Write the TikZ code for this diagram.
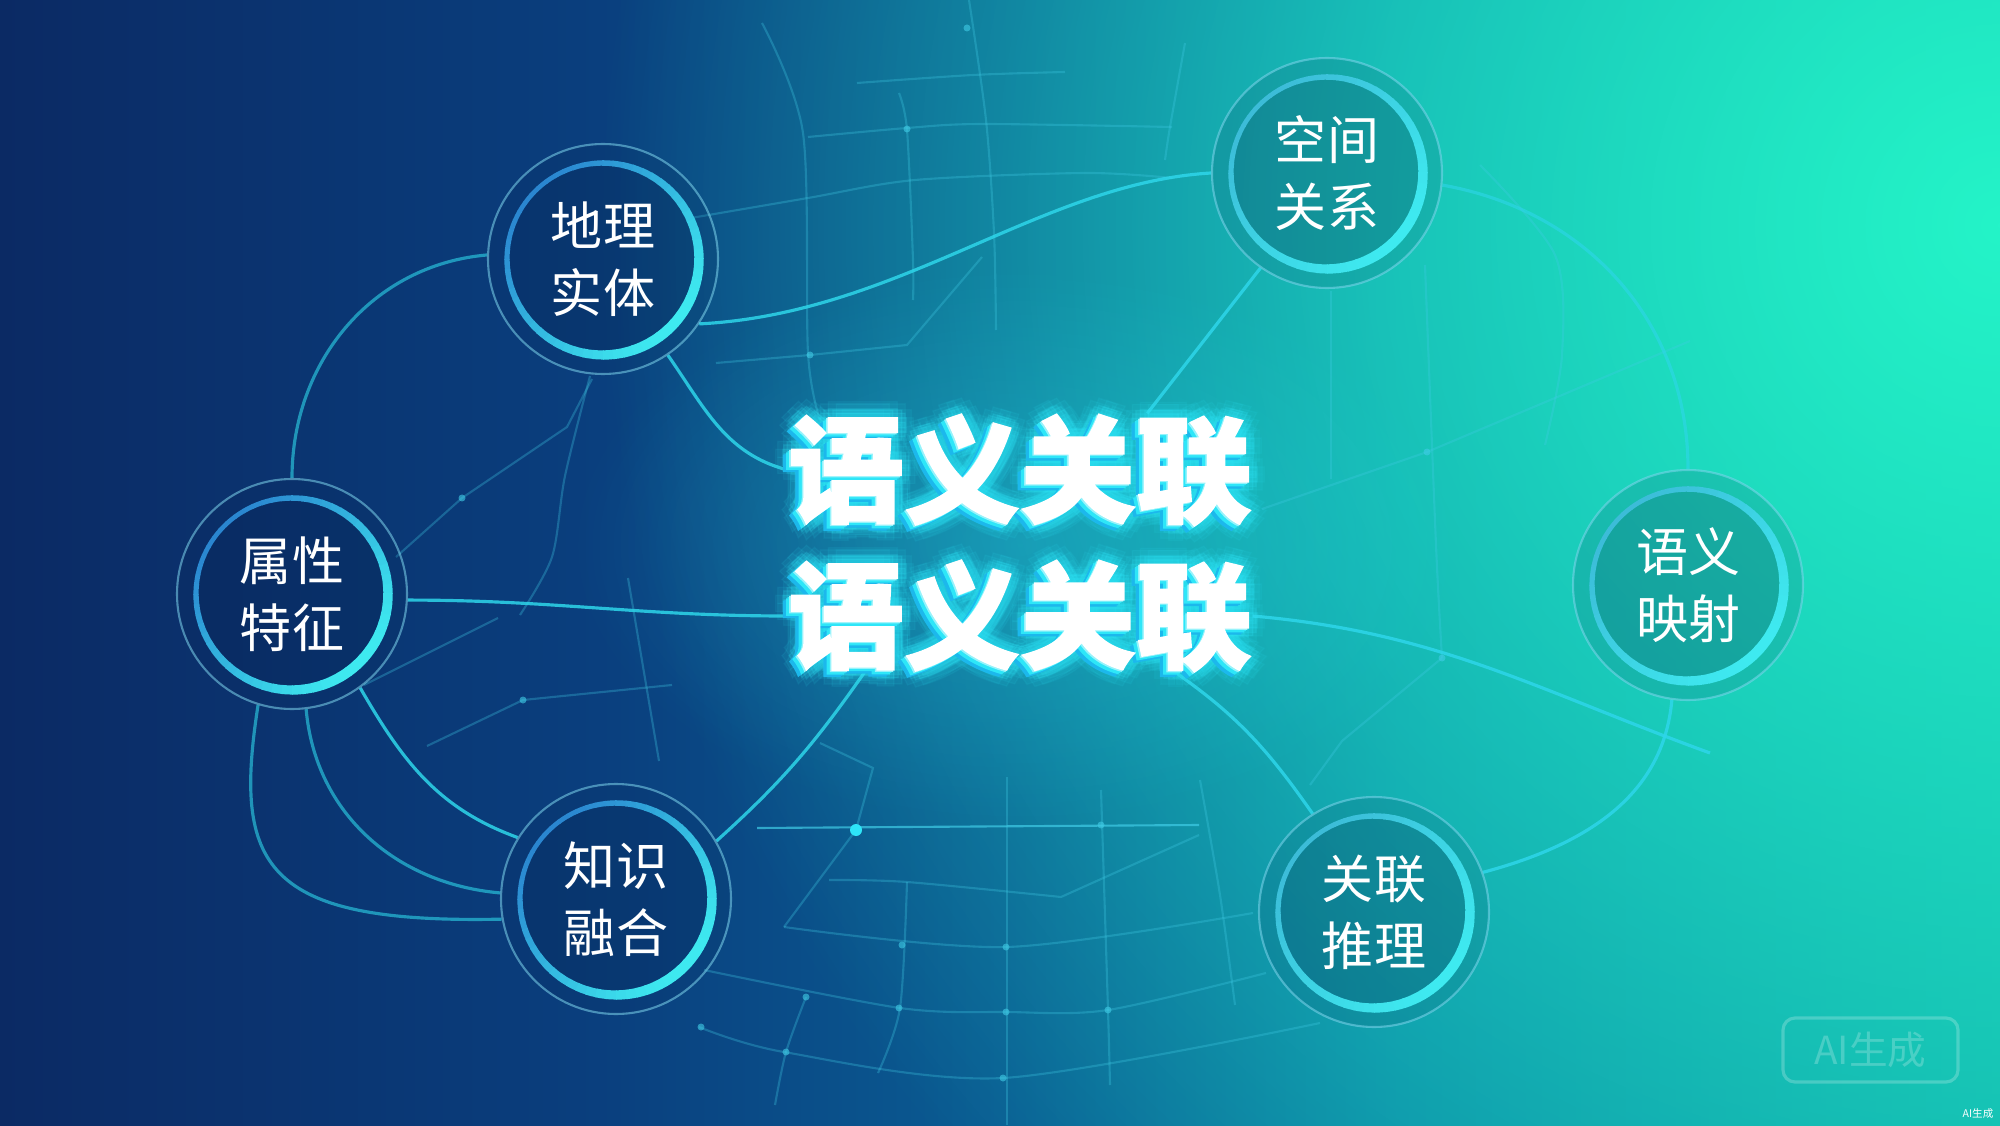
\documentclass[tikz,border=0pt]{standalone}
\usepackage{fontspec}
\newfontfamily\cjk{Noto Sans CJK SC}
\newfontfamily\cjkheavy{Noto Sans CJK SC}[BoldFeatures={FakeBold=1.2}]
\usetikzlibrary {positioning, calc, fadings, shapes}

\definecolor{bgnavy}{HTML}{0B2A64}
\definecolor{bgblue}{HTML}{0A3F7E}
\definecolor{bgmid}{HTML}{0A5C93}
\definecolor{bgteal}{HTML}{0A84A6}
\definecolor{bgedge}{HTML}{0FA8AA}
\definecolor{bgmint}{HTML}{24F4C8}
\definecolor{nodefill}{HTML}{06204A}
\definecolor{ringblue}{HTML}{2A86D0}
\definecolor{ringteal}{HTML}{3CBCD8}
\definecolor{ringcyan}{HTML}{3EEAF0}
\definecolor{thinring}{HTML}{7FD6EE}
\definecolor{linkcyan}{HTML}{2ED6EA}
\definecolor{gridcyan}{HTML}{40CCE6}
\definecolor{glowcyan}{HTML}{2EE6F8}
\definecolor{edgecyan}{HTML}{1CB8EC}

\pgfdeclarehorizontalshading{bgsweep}{100bp}{color(0bp)=(bgnavy); color(25bp)=(bgnavy); color(40bp)=(bgblue); color(50bp)=(bgmid); color(60bp)=(bgteal); color(75bp)=(bgedge); color(100bp)=(bgedge)}
\tikzfading[name=softglow, inner color=transparent!0, outer color=transparent!100]
\pgfdeclarelayer{bg}
\pgfsetlayers{bg,main}

\tikzset{
  topic/.style={circle, minimum size=2.3cm, inner sep=0pt, draw=thinring, draw opacity=0.55, line width=0.6pt, text=white, align=center, font=\cjk\fontsize{14.8}{19}\selectfont},
  headline/.style={inner sep=0pt, font=\cjkheavy\bfseries\fontsize{33}{40}\selectfont},
  link/.style={draw=linkcyan, line width=0.9pt, opacity=0.85},
  gridline/.style={draw=gridcyan, line width=0.6pt, opacity=0.3}
}

\begin{document}
\begin{tikzpicture}
  \useasboundingbox (0,0) rectangle (20,11.25);

  \begin{pgfonlayer}{bg}
  \begin{scope}
    \clip (0,0) rectangle (20,11.25);
    \shade[shading=bgsweep] (0,0) rectangle (20,11.25);
    \fill[bgmint, path fading=softglow] (20,9) circle (14);
    \fill[glowcyan, path fading=softglow, opacity=0.25] (10.2,5.8) ellipse (4.5 and 2.8);

    % background grid
    \draw[gridline] plot[smooth] coordinates {(7.62,11.02) (8.03,9.92) (8.08,7.72) (8.20,7.05)};
    \draw[gridline] plot[smooth] coordinates {(8.99,10.32) (9.07,9.95) (9.13,8.65) (9.13,8.25)};
    \draw[gridline] plot[smooth] coordinates {(9.69,11.25) (9.86,10.05) (9.94,8.92) (9.96,7.95)};
    \draw[gridline] plot[smooth] coordinates {(11.85,10.82) (11.70,9.98) (11.65,9.65)};
    \draw[gridline] plot[smooth] coordinates {(8.08,9.88) (9.07,9.97) (9.82,10.01) (11.72,9.98)};
    \draw[gridline] plot[smooth] coordinates {(6.91,9.07) (8.08,9.27) (9.15,9.45) (10.85,9.52) (11.72,9.47)};
    \draw[gridline] plot[smooth] coordinates {(8.57,10.42) (9.73,10.50) (10.65,10.53)};
    \draw[gridline] (7.16,7.62) -- (8.10,7.70) -- (9.07,7.80) -- (9.82,8.68);
    \draw[gridline] (3.96,5.68) -- (4.62,6.27) -- (5.67,6.98) -- (5.92,7.46);
    \draw[gridline] (3.64,4.40) -- (4.98,5.07);
    \draw[gridline] plot[smooth] coordinates {(5.90,7.49) (5.65,6.49) (5.52,5.68) (5.20,5.10)};
    \draw[gridline] (4.27,3.79) -- (5.23,4.25) -- (6.72,4.40);
    \draw[gridline] (6.28,5.47) -- (6.59,3.64);
    \draw[gridline] (12.62,6.16) -- (14.27,6.73) -- (16.90,7.84);
    \draw[gridline] plot[smooth] coordinates {(14.80,9.60) (15.55,8.70) (15.62,7.70) (15.45,6.80)};
    \draw[gridline] (13.31,8.34) -- (13.31,6.46);
    \draw[gridline] plot[smooth] coordinates {(14.25,8.60) (14.36,5.80) (14.42,4.67)};
    \draw[gridline] (14.42,4.67) -- (13.42,3.84) -- (13.10,3.40);
    \draw[gridline, opacity=0.7] (7.57,2.97) -- (11.99,3.00);
    \draw[gridline] (7.84,1.98) -- (8.56,2.95) -- (8.73,3.57) -- (8.20,3.82);
    \draw[gridline] plot[smooth] coordinates {(8.29,2.45) (9.07,2.43) (10.61,2.28)} -- (11.99,2.90);
    \draw[gridline] plot[smooth] coordinates {(7.84,1.98) (10.07,1.78) (12.53,2.12)};
    \draw[gridline] plot[smooth] coordinates {(7.04,1.55) (9.00,1.17) (10.07,1.13) (11.08,1.15) (12.66,1.52)};
    \draw[gridline] plot[smooth] coordinates {(6.99,0.98) (7.84,0.73) (10.03,0.47) (13.20,1.02)};
    \draw[gridline] (10.07,3.48) -- (10.07,0);
    \draw[gridline] plot[smooth] coordinates {(9.07,2.43) (9.00,1.17) (8.78,0.52)};
    \draw[gridline] plot[smooth] coordinates {(11.01,3.35) (11.08,1.15) (11.10,0.40)};
    \draw[gridline] plot[smooth] coordinates {(8.06,1.28) (7.86,0.73) (7.75,0.2)};
    \draw[gridline] plot[smooth] coordinates {(12.00,3.45) (12.20,2.30) (12.35,1.2)};
    \foreach \pt in {(9.07,9.96),(8.10,7.70),(9.67,10.97),(4.62,6.27),(5.23,4.25),(14.27,6.73),(14.42,4.67),(11.01,3.00),(8.06,1.28),(8.99,1.17),(10.06,1.13),(11.08,1.15),(7.86,0.73),(10.03,0.47),(7.01,0.98),(9.02,1.80),(10.06,1.78)}
      \fill[gridcyan, opacity=0.6] \pt circle (0.035);
    \fill[glowcyan] (8.56,2.95) circle (0.06);
  \end{scope}
  \end{pgfonlayer}

  % topics
  \node[topic] (dili) at (6.03,8.66) {地理\\实体};
  \node[topic] (kongjian) at (13.27,9.52) {空间\\关系};
  \node[topic] (shuxing) at (2.92,5.31) {属性\\特征};
  \node[topic] (yingshe) at (16.88,5.40) {语义\\映射};
  \node[topic] (ronghe) at (6.16,2.26) {知识\\融合};
  \node[topic] (tuili) at (13.74,2.13) {关联\\推理};

  % title with glow and edge
  \coordinate (t1pos) at (10.20,6.55);
  \coordinate (t2pos) at (10.20,5.09);
  \foreach \r/\o/\m in {0.16/0.07/x, 0.09/0.14/y}{
    \foreach \a in {0,30,...,330}{
      \node[headline, text=glowcyan, opacity=\o] (glow\m a\a) at ($(t1pos)+(\a:\r)$) {语义关联};
      \node[headline, text=glowcyan, opacity=\o] (glow\m b\a) at ($(t2pos)+(\a:\r)$) {语义关联};
    }
  }
  \foreach \k/\c in {5/edgecyan, 4/edgecyan, 3/glowcyan, 2/glowcyan, 1/glowcyan!50!white}{
    \node[headline, text=\c] (edgea\k) at ($(t1pos)+(-0.016*\k,-0.012*\k)$) {语义关联};
    \node[headline, text=\c] (edgeb\k) at ($(t2pos)+(-0.016*\k,-0.012*\k)$) {语义关联};
  }
  \node[headline, text=white] (title1) at (t1pos) {语义关联};
  \node[headline, text=white] (title2) at (t2pos) {语义关联};

  \coordinate (fadeend) at (17.1,3.72);

  \begin{pgfonlayer}{bg}
    \draw[link] (dili.-34) .. controls +(2.0,0.1) and +(-1.7,-0.1) .. (kongjian.west);
    \draw[link] (dili.-56) to[out=-55, in=165] (title1.west);
    \draw[link, opacity=0.6] (dili.178) to[out=185, in=90] (shuxing.north);
    \draw[link] (shuxing.-3) to[out=0, in=180] (title2.west);
    \draw[link] (shuxing.-54) to[out=-60, in=160] (ronghe.148);
    \draw[link, opacity=0.6] (shuxing.-83) to[out=-85, in=175] (ronghe.177);
    \draw[link, opacity=0.6] (shuxing.-107) .. controls +(-0.25,-1.6) and +(-2.4,-0.05) .. (ronghe.190);
    \draw[link] (ronghe.30) to[out=42, in=-125] (title2.-160);
    \draw[link] (kongjian.235) -- (title1.24);
    \draw[link, opacity=0.6] (kongjian.-6) to[out=-10, in=90] (yingshe.north);
    \draw[link] (title2.east) to[out=-5, in=160] (fadeend);
    \draw[link] (title2.-20) to[out=-35, in=125] (tuili.122);
    \draw[link] (yingshe.-98) to[out=-95, in=15] (tuili.20);
    \foreach \n in {dili,kongjian,shuxing,yingshe,ronghe,tuili}{
      \fill[nodefill, opacity=0.12] (\n.center) circle (1.15);
      \fill[nodefill, opacity=0.14] (\n.center) circle (0.96);
    }
  \end{pgfonlayer}

  % glowing inner rings
  \foreach \n/\lo in {dili/ringblue, shuxing/ringblue, ronghe/ringblue, kongjian/ringteal, yingshe/ringteal, tuili/ringteal}{
    \foreach \a in {0,6,...,354}{
      \pgfmathtruncatemacro\p{50+50*cos(\a+45)}
      \pgfmathsetmacro\w{1.3+1.6*\p/100}
      \draw[line width=\w pt, color=ringcyan!\p!\lo] (\n.center) ++(\a:0.96) arc[start angle=\a, delta angle=6.5, radius=0.96];
    }
  }

  % watermark
  \node[draw=white, draw opacity=0.22, text=white, text opacity=0.22, rounded corners=0.12cm, line width=0.9pt, minimum width=1.75cm, minimum height=0.64cm, font=\cjk\fontsize{11}{13}\selectfont] (mark) at (18.705,0.75) {AI生成};
  \node[text=white, inner sep=0pt, font=\cjk\fontsize{3}{4}\selectfont] (marksmall) at (19.78,0.11) {AI生成};
\end{tikzpicture}
\end{document}
